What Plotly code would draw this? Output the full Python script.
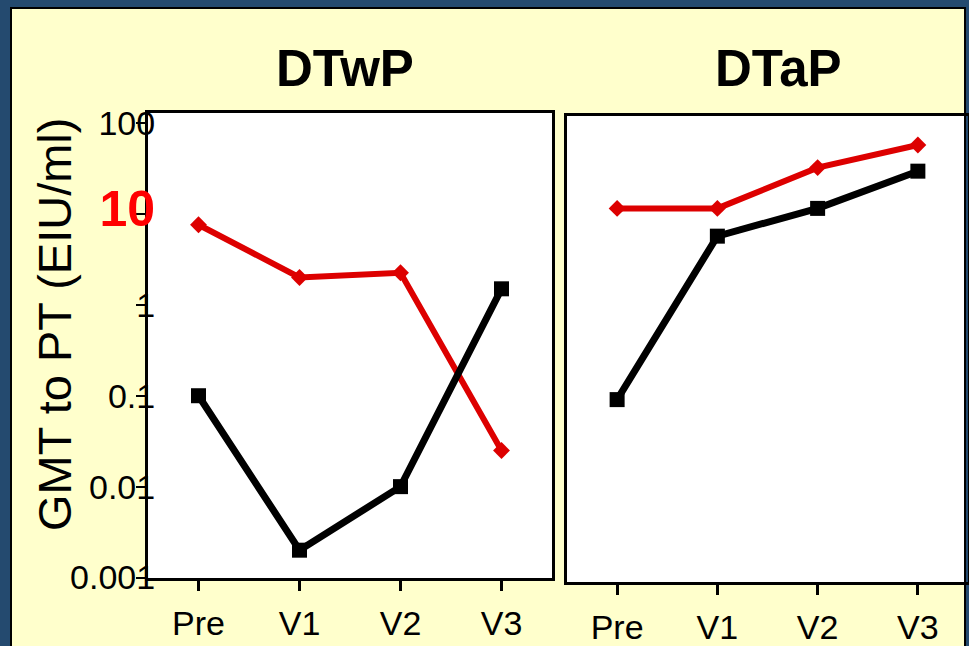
import plotly.graph_objects as go

W, H = 969, 646

categories = ["Pre", "V1", "V2", "V3"]
panel_titles = ["DTwP", "DTaP"]
dtwp_red = [7.6, 2.0, 2.25, 0.025]
dtwp_black = [0.1, 0.002, 0.01, 1.5]
dtap_red = [12.5, 12.5, 35, 62]
dtap_black = [0.1, 6.2, 12.5, 32]
y_tickvals = [0.001, 0.01, 0.1, 1, 10, 100]
y_ticktext = ["0.001", "0.01", "0.1", "1",
              "<span style='color:#FF0000;font-size:50px'><b>10</b></span>", "100"]
y_title = "GMT to PT (EIU/ml)"

RED = "#DD0000"
BLUE = "#244A6F"
YELLOW = "#FFFFCC"
FONT = "Liberation Sans, Arial, Helvetica, sans-serif"

def px_x(p):
    return p / W

def px_y(p):
    return 1 - p / H

fig = go.Figure()

def add_series(vals, color, symbol, size, lw, xa, ya):
    fig.add_trace(go.Scatter(
        x=categories, y=vals, mode="lines+markers",
        line=dict(color=color, width=lw),
        marker=dict(symbol=symbol, size=size, color=color),
        xaxis=xa, yaxis=ya, showlegend=False, hoverinfo="skip"))

add_series(dtwp_red, RED, "diamond", 13, 6, "x", "y")
add_series(dtwp_black, "black", "square", 15, 7, "x", "y")
add_series(dtap_red, RED, "diamond", 13, 6, "x2", "y2")
add_series(dtap_black, "black", "square", 15, 7, "x2", "y2")

xcommon = dict(
    type="category", range=[-0.5, 3.5], showgrid=False, zeroline=False,
    showline=True, mirror=True, linecolor="black", linewidth=3,
    ticks="outside", ticklen=10, tickwidth=3, tickcolor="black",
    ticklabelstandoff=3, automargin=False,
    tickfont=dict(family=FONT, size=34, color="black"),
)

fig.update_layout(
    template="none",
    width=W, height=H, autosize=False,
    margin=dict(l=0, r=0, t=0, b=0, pad=0),
    paper_bgcolor=YELLOW, plot_bgcolor="white",
    xaxis=dict(domain=[px_x(148), px_x(552)], anchor="y", **xcommon),
    xaxis2=dict(domain=[px_x(567), px_x(968)], anchor="y2", **xcommon),
    yaxis=dict(
        domain=[px_y(578), px_y(113)], anchor="x", type="log",
        range=[-3.005, 2.11], showgrid=False, zeroline=False,
        showline=True, mirror=True, linecolor="black", linewidth=3,
        ticks="outside", ticklen=9, tickwidth=2, tickcolor="black",
        tickvals=y_tickvals, ticktext=y_ticktext,
        ticklabelstandoff=-26, automargin=False,
        tickfont=dict(family=FONT, size=34, color="black"),
    ),
    yaxis2=dict(
        domain=[px_y(582), px_y(116)], anchor="x2", type="log",
        range=[-3, 2.11], showgrid=False, zeroline=False,
        showline=True, mirror=True, linecolor="black", linewidth=3,
        showticklabels=False, ticks="", automargin=False,
    ),
    shapes=[
        dict(type="rect", xref="paper", yref="paper",
             x0=0, x1=px_x(11), y0=-0.01, y1=1.01,
             fillcolor=BLUE, line=dict(width=0), layer="below"),
        dict(type="rect", xref="paper", yref="paper",
             x0=0, x1=1.01, y0=px_y(8), y1=1.01,
             fillcolor=BLUE, line=dict(width=0), layer="below"),
        dict(type="rect", xref="paper", yref="paper",
             x0=px_x(965), x1=1.01, y0=-0.01, y1=1.01,
             fillcolor=BLUE, line=dict(width=0), layer="below"),
        dict(type="rect", xref="paper", yref="paper",
             x0=px_x(11), x1=px_x(965), y0=-0.05, y1=px_y(8),
             fillcolor="rgba(0,0,0,0)", line=dict(color="black", width=2),
             layer="below"),
    ],
    annotations=[
        dict(text=panel_titles[0], x=px_x(345), y=px_y(68), xref="paper", yref="paper",
             showarrow=False, xanchor="center", yanchor="middle",
             font=dict(family=FONT, size=51, color="black", weight="bold")),
        dict(text=panel_titles[1], x=px_x(778), y=px_y(68), xref="paper", yref="paper",
             showarrow=False, xanchor="center", yanchor="middle",
             font=dict(family=FONT, size=51, color="black", weight="bold")),
        dict(text=y_title, x=px_x(54), y=px_y(325), xref="paper", yref="paper",
             showarrow=False, xanchor="center", yanchor="middle", textangle=-90,
             font=dict(family=FONT, size=47, color="black")),
    ],
)

fig.write_html(
    "out.html",
    config={"displayModeBar": False, "responsive": False},
    post_script=(
        "document.documentElement.style.margin='0';"
        "document.documentElement.style.overflow='hidden';"
        "document.body.style.margin='0';"
        "document.body.style.padding='0';"
        "document.body.style.overflow='hidden';"
    ),
)
